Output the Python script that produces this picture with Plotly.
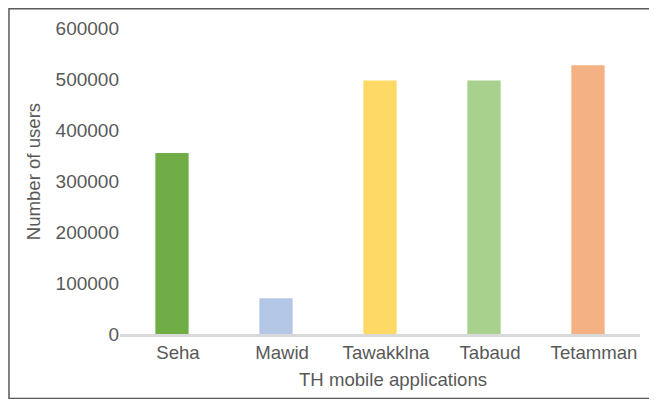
import plotly.graph_objects as go

categories = ["Seha", "Mawid", "Tawakklna", "Tabaud", "Tetamman"]
users = [355000, 70000, 497000, 497000, 527000]
colors = ["#70ad47", "#b4c7e7", "#ffd966", "#a9d18e", "#f4b183"]
y_ticks = [0, 100000, 200000, 300000, 400000, 500000, 600000]

font_family = "Liberation Sans, Arial, sans-serif"
txt_color = "#595959"
fs = 18.6

fig = go.Figure(go.Bar(x=categories, y=users, marker=dict(color=colors, line=dict(width=0)),
                       width=0.32))

# page body has an 8px margin, so the figure is sized/offset to compensate
fig.update_layout(
    width=649, height=391,
    margin=dict(l=112, r=17, t=20, b=65),
    paper_bgcolor="white", plot_bgcolor="white",
    showlegend=False,
    font=dict(family=font_family, size=fs, color=txt_color),
    xaxis=dict(
        automargin=False,
        showgrid=False, showline=True, linecolor="#d9d9d9", linewidth=2.5,
        ticks="", tickfont=dict(size=fs, color=txt_color), ticklabelshift=6,
    ),
    yaxis=dict(
        automargin=False,
        range=[0, 600000], tickvals=y_ticks, ticktext=[str(v) for v in y_ticks],
        showgrid=False, zeroline=False, showline=False, ticks="",
        tickfont=dict(size=19, color=txt_color),
    ),
    annotations=[
        dict(text="TH mobile applications", xref="paper", yref="paper", x=0.525, y=-0.150,
             xanchor="center", yanchor="middle", showarrow=False,
             font=dict(size=fs, color=txt_color)),
        dict(text="Number of users", xref="paper", yref="paper", x=-0.167, y=0.529,
             xanchor="center", yanchor="middle", showarrow=False, textangle=-90,
             font=dict(size=fs, color=txt_color)),
    ],
    shapes=[dict(type="rect", xref="paper", yref="paper",
                 x0=-0.2135, x1=1.029, y0=-0.2105, y1=1.063,
                 line=dict(color="#595959", width=1.5), fillcolor="rgba(0,0,0,0)", layer="above")],
)

fig.write_html("out.html")
